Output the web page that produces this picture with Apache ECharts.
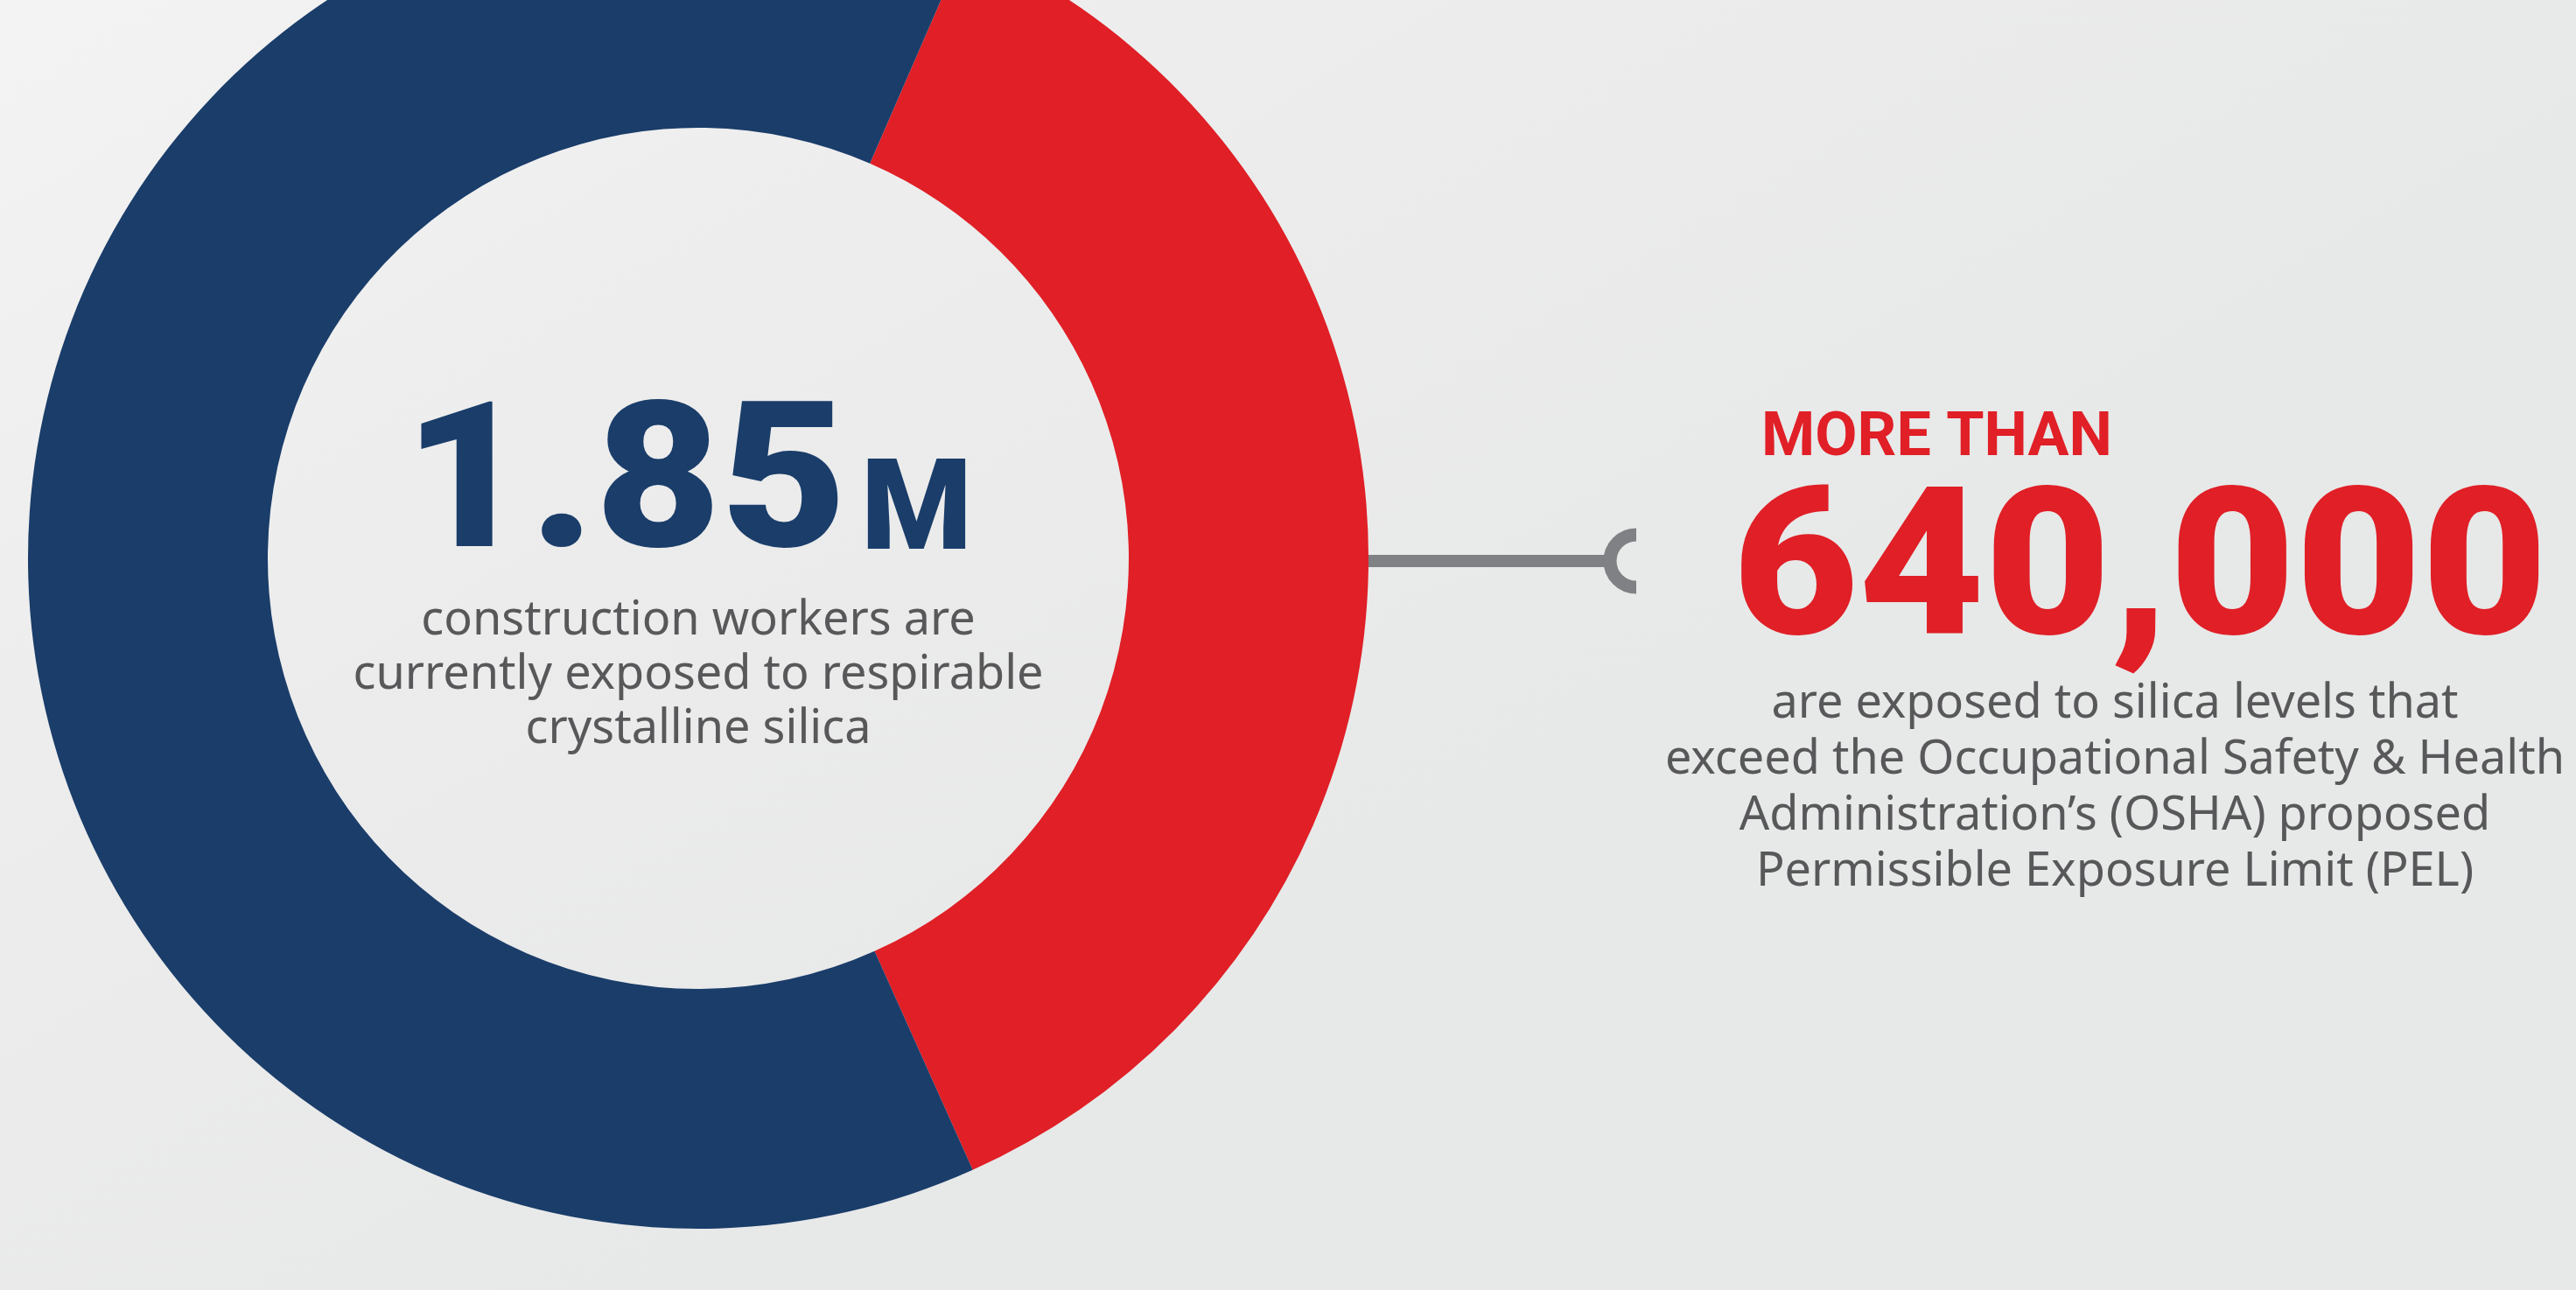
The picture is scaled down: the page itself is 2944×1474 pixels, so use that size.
<!DOCTYPE html>
<html>
<head>
<meta charset="utf-8">
<script src="https://cdn.jsdelivr.net/npm/echarts@6/dist/echarts.min.js"></script>
<style>
html,body{margin:0;padding:0;width:2944px;height:1474px;overflow:hidden;}
#chart{width:2944px;height:1474px;}
</style>
</head>
<body>
<div id="chart"></div>
<script>
// ---- data ----
const sliceNames = ['Exceed proposed PEL', 'Other exposed workers'];
// slice shares as drawn: red arc ≈ 132° of the ring
const sliceValues = [680000, 1170000];
const sliceColors = ['#e01f26', '#1a3d6a'];
const totalLabel = '1.85';
const totalUnit = 'M';
const totalText = ['construction workers are', 'currently exposed to respirable', 'crystalline silica'];
const partPrefix = 'MORE THAN';
const partLabel = '640,000';
const partText = ['are exposed to silica levels that', 'exceed the Occupational Safety & Health', 'Administration\u2019s (OSHA) proposed', 'Permissible Exposure Limit (PEL)'];

// ---- layout ----
const CX = 798, CY = 638, R_IN = 492, R_OUT = 766;
const GREY = '#58585a';
const LINE_GREY = '#808184';

const chart = echarts.init(document.getElementById('chart'), null, {renderer: 'canvas'});

const option = {
  backgroundColor: {
    type: 'linear', x: 0, y: 0, x2: 0.3, y2: 1,
    colorStops: [
      {offset: 0, color: '#f3f3f3'},
      {offset: 0.5, color: '#ececec'},
      {offset: 1, color: '#e7e8e8'}
    ]
  },
  animation: false,
  series: [{
    type: 'pie',
    center: [CX, CY],
    radius: [R_IN, R_OUT],
    startAngle: 66.5,
    clockwise: true,
    silent: true,
    label: {show: false},
    labelLine: {show: false},
    itemStyle: {borderWidth: 0},
    emphasis: {disabled: true},
    data: sliceNames.map((n, i) => ({name: n, value: sliceValues[i], itemStyle: {color: sliceColors[i]}}))
  }],
  graphic: [
    // big total
    {type: 'text', silent: true, x: 968, y: 566, scaleX: 1.07,
      style: {text: totalLabel, font: '900 232px Roboto', fill: sliceColors[1], textAlign: 'right', textVerticalAlign: 'middle'}},
    {type: 'text', silent: true, x: 984, y: 591,
      style: {text: totalUnit, font: '900 145px Roboto', fill: sliceColors[1], textAlign: 'left', textVerticalAlign: 'middle'}},
    {type: 'text', silent: true, x: CX, y: 772,
      style: {text: totalText.join('\n'), font: '400 54px "Noto Sans"', lineHeight: 62, fill: GREY, textAlign: 'center', textVerticalAlign: 'middle'}},
    // connector
    {type: 'line', silent: true,
      shape: {x1: CX + R_OUT - 4, y1: CY + 3, x2: 1840, y2: CY + 3},
      style: {stroke: LINE_GREY, lineWidth: 14}},
    {type: 'arc', silent: true,
      shape: {cx: 1870, cy: CY + 3, r: 30, startAngle: Math.PI / 2, endAngle: Math.PI * 1.5, clockwise: true},
      style: {stroke: LINE_GREY, lineWidth: 15, fill: null}},
    // right part
    {type: 'text', silent: true, x: 2013, y: 502,
      style: {text: partPrefix, font: '700 70px Roboto', fill: sliceColors[0], textAlign: 'left', textVerticalAlign: 'middle'}},
    {type: 'text', silent: true, x: 1980, y: 665, scaleX: 1.058,
      style: {text: partLabel, font: '900 235px Roboto', fill: sliceColors[0], textAlign: 'left', textVerticalAlign: 'middle'}},
    {type: 'text', silent: true, x: 2417, y: 901,
      style: {text: partText.join('\n'), font: '400 54px "Noto Sans"', lineHeight: 64, fill: GREY, textAlign: 'center', textVerticalAlign: 'middle'}}
  ]
};
chart.setOption(option);
</script>
</body>
</html>
